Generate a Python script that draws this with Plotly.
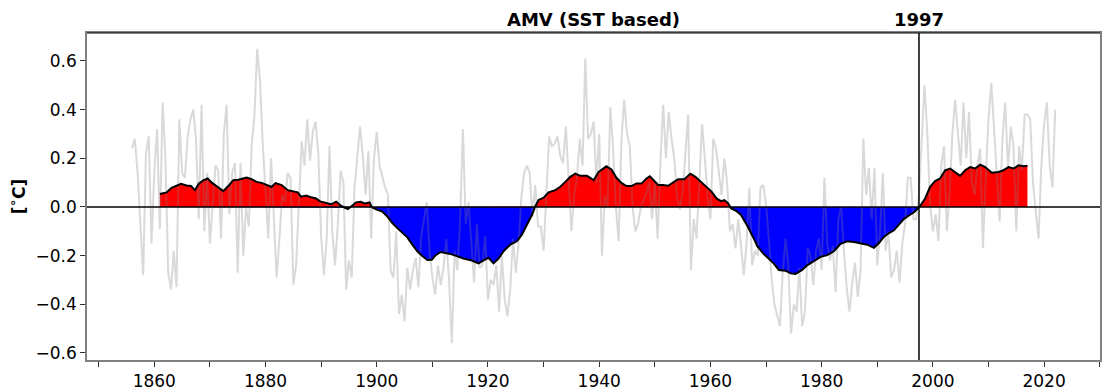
import numpy as np
import plotly.graph_objects as go

# Raw AMV index (half-year sampling), degC
RAW_START = 1856.0
RAW_STEP = 0.5
amv_raw = [
    0.24, 0.28, 0.14, -0.05, -0.28, 0.22, 0.29, -0.15, 0.14, 0.32,      # 1856-1860
    -0.09, 0.43, 0.20, -0.27, -0.34, -0.18, -0.33, 0.36, 0.14, 0.12,    # 1861-1865
    0.29, 0.36, 0.40, 0.28, -0.05, 0.42, -0.10, 0.14, -0.15, 0.01,      # 1866-1870
    0.17, 0.15, -0.13, 0.30, 0.42, -0.03, 0.14, 0.18, -0.27, 0.18,      # 1871-1875
    -0.20, 0.00, -0.08, 0.25, 0.37, 0.65, 0.52, 0.26, 0.08, -0.13,      # 1876-1880
    0.20, -0.05, -0.29, -0.13, 0.05, 0.02, 0.14, 0.12, -0.32, -0.24,    # 1881-1885
    0.05, 0.27, 0.17, 0.36, 0.19, 0.31, 0.35, 0.22, -0.12, -0.28,       # 1886-1890
    -0.13, 0.25, -0.10, -0.24, -0.07, 0.15, 0.10, -0.34, -0.22, -0.29,  # 1891-1895
    0.08, 0.20, 0.33, 0.21, 0.05, 0.23, -0.13, 0.20, 0.31, 0.17,        # 1896-1900
    0.12, 0.08, 0.05, -0.26, -0.29, -0.10, -0.44, -0.36, -0.47, -0.25,  # 1901-1905
    -0.34, -0.26, -0.21, -0.33, -0.12, -0.05, 0.02, -0.18, -0.29, -0.36,  # 1906-1910
    -0.24, -0.32, -0.25, -0.13, -0.30, -0.56, -0.18, -0.26, -0.05, 0.32,  # 1911-1915
    -0.07, 0.02, -0.16, -0.31, -0.07, -0.25, -0.24, -0.12, -0.38, -0.30,  # 1916-1920
    -0.32, -0.24, -0.43, -0.20, -0.38, -0.45, -0.34, -0.13, -0.27, -0.15,  # 1921-1925
    0.04, 0.14, 0.17, 0.14, -0.04, 0.09, -0.08, -0.08, -0.18, 0.05,     # 1926-1930
    0.29, 0.25, 0.26, 0.29, 0.21, 0.18, 0.33, 0.12, -0.10, 0.05,        # 1931-1935
    0.12, 0.28, 0.17, 0.61, 0.28, 0.30, 0.35, 0.10, 0.30, -0.20,        # 1936-1940
    0.05, 0.00, 0.41, 0.24, 0.00, -0.14, 0.28, 0.44, 0.30, 0.25,        # 1941-1945
    0.00, -0.10, -0.07, 0.00, 0.03, 0.06, 0.10, -0.05, 0.10, -0.13,     # 1946-1950
    0.18, 0.42, 0.20, 0.39, 0.28, 0.20, 0.04, -0.01, 0.06, 0.22,        # 1951-1955
    0.38, -0.26, -0.05, -0.13, 0.14, 0.34, 0.20, 0.04, -0.05, 0.28,     # 1956-1960
    0.24, 0.15, 0.05, 0.20, 0.10, -0.10, -0.07, -0.17, -0.05, -0.16,    # 1961-1965
    -0.28, -0.15, 0.08, -0.24, -0.18, -0.20, 0.08, 0.09, 0.01, -0.13,   # 1966-1970
    -0.29, -0.40, -0.44, -0.49, -0.27, -0.13, -0.24, -0.52, -0.40, -0.43,  # 1971-1975
    -0.25, -0.49, -0.43, -0.17, -0.20, -0.32, -0.18, -0.13, -0.26, 0.12,   # 1976-1980
    -0.15, -0.22, -0.16, -0.35, -0.05, 0.00, -0.18, -0.33, -0.43, -0.31,   # 1981-1985
    -0.23, -0.37, -0.26, 0.28, 0.05, 0.16, -0.05, 0.16, -0.24, -0.10,     # 1986-1990
    0.14, -0.18, -0.10, -0.29, -0.26, -0.18, -0.31, -0.15, -0.07, 0.12,   # 1991-1995
    0.12, -0.05, -0.05, 0.05, 0.28, 0.50, 0.30, 0.01, -0.10, -0.03,       # 1996-2000
    -0.14, 0.17, 0.25, -0.10, 0.05, 0.30, 0.44, 0.29, 0.17, 0.43,         # 2001-2005
    0.20, 0.39, 0.10, 0.05, 0.17, 0.24, -0.17, 0.12, 0.36, 0.51,          # 2006-2010
    0.33, 0.14, -0.06, 0.28, 0.43, 0.16, 0.33, 0.25, -0.10, 0.25,         # 2011-2015
    0.15, 0.38, 0.38, 0.36, 0.10, -0.02, -0.13, 0.17, 0.34, 0.43,         # 2016-2020
    0.17, 0.08, 0.40,                                                     # 2021-2022
]

# Low-pass filtered AMV index
smooth_years = [
    1861.0, 1862.2, 1863.1, 1864.0, 1864.8, 1865.8, 1866.6, 1867.3, 1868.0, 1868.8,
    1869.6, 1870.4, 1871.5, 1872.4, 1873.3, 1874.2, 1875.1, 1875.8, 1876.6, 1877.5,
    1878.4, 1879.3, 1880.2, 1881.1, 1881.8, 1882.9, 1884.0, 1884.9, 1885.8, 1886.4,
    1887.3, 1888.2, 1889.1, 1889.8, 1890.9, 1891.8, 1892.7, 1893.4, 1894.2, 1894.8,
    1895.4, 1896.3, 1897.1, 1897.9, 1898.7, 1899.1, 1900.1, 1901.0, 1901.9, 1902.8,
    1903.7, 1904.6, 1905.5, 1906.4, 1907.3, 1908.2, 1909.1, 1909.9, 1910.6, 1911.5,
    1913.2, 1914.4, 1915.6, 1917.1, 1918.3, 1919.2, 1920.1, 1921.0, 1921.9, 1922.8,
    1924.0, 1925.2, 1926.1, 1927.0, 1927.9, 1928.5, 1929.1, 1930.0, 1930.9, 1932.1,
    1933.0, 1933.9, 1934.8, 1935.7, 1936.6, 1937.8, 1939.0, 1939.9, 1941.3, 1942.2,
    1943.1, 1944.0, 1944.9, 1945.8, 1946.7, 1947.6, 1948.5, 1949.1, 1949.7, 1950.6,
    1951.5, 1952.4, 1953.3, 1954.2, 1955.3, 1956.4, 1957.3, 1958.1, 1959.0, 1960.2,
    1961.1, 1961.9, 1962.5, 1963.2, 1963.7, 1964.6, 1965.5, 1966.7, 1967.9, 1968.4,
    1969.4, 1970.5, 1971.4, 1972.3, 1973.5, 1974.4, 1975.3, 1976.5, 1977.4, 1978.6,
    1979.8, 1981.0, 1982.2, 1983.4, 1984.6, 1985.8, 1987.0, 1988.2, 1989.4, 1990.3,
    1991.2, 1992.1, 1993.0, 1993.9, 1994.8, 1995.7, 1996.6, 1997.6, 1998.6, 1999.5,
    2000.4, 2001.3, 2002.2, 2003.1, 2004.0, 2004.9, 2005.8, 2006.7, 2007.6, 2008.5,
    2009.4, 2010.6, 2011.8, 2012.7, 2013.6, 2014.5, 2015.4, 2016.3, 2017.0,
]
smooth_vals = [
    0.053, 0.060, 0.079, 0.088, 0.095, 0.088, 0.086, 0.069, 0.096, 0.109,
    0.117, 0.099, 0.080, 0.065, 0.086, 0.110, 0.112, 0.117, 0.121, 0.114,
    0.103, 0.099, 0.092, 0.082, 0.098, 0.090, 0.069, 0.063, 0.060, 0.042,
    0.047, 0.040, 0.035, 0.023, 0.015, 0.011, 0.022, 0.008, -0.003, -0.009,
    0.002, 0.019, 0.021, 0.014, 0.019, -0.001, -0.012, -0.019, -0.039, -0.066,
    -0.087, -0.107, -0.125, -0.155, -0.182, -0.202, -0.218, -0.217, -0.198, -0.185,
    -0.193, -0.202, -0.212, -0.220, -0.232, -0.220, -0.209, -0.232, -0.212, -0.182,
    -0.155, -0.141, -0.114, -0.073, -0.033, 0.002, 0.029, 0.038, 0.060, 0.069,
    0.083, 0.103, 0.124, 0.137, 0.128, 0.128, 0.110, 0.144, 0.167, 0.154,
    0.120, 0.099, 0.086, 0.086, 0.096, 0.096, 0.117, 0.126, 0.110, 0.090,
    0.090, 0.087, 0.101, 0.114, 0.114, 0.137, 0.124, 0.106, 0.086, 0.063,
    0.035, 0.024, 0.028, 0.015, -0.005, -0.016, -0.033, -0.080, -0.134, -0.160,
    -0.189, -0.212, -0.233, -0.259, -0.262, -0.273, -0.275, -0.259, -0.240, -0.223,
    -0.205, -0.198, -0.182, -0.152, -0.141, -0.144, -0.148, -0.155, -0.168, -0.148,
    -0.123, -0.107, -0.096, -0.073, -0.049, -0.035, -0.022, 0.000, 0.035, 0.083,
    0.106, 0.117, 0.151, 0.158, 0.141, 0.128, 0.151, 0.164, 0.158, 0.174,
    0.164, 0.141, 0.144, 0.151, 0.164, 0.158, 0.171, 0.167, 0.169,
]

EVENT_LABEL = "1997"
EVENT_YEAR = 1997.5
y_ticks = [-0.6, -0.4, -0.2, 0.0, 0.2, 0.4, 0.6]

FONT = "DejaVu Sans"

raw_years = RAW_START + RAW_STEP * np.arange(len(amv_raw))

# Insert zero crossings so the warm / cold fills meet exactly at y = 0
xs, ys = [], []
for i, (x, y) in enumerate(zip(smooth_years, smooth_vals)):
    if i > 0:
        x0, y0 = smooth_years[i - 1], smooth_vals[i - 1]
        if y0 * y < 0:
            xs.append(x0 + (x - x0) * (-y0) / (y - y0))
            ys.append(0.0)
    xs.append(x)
    ys.append(y)
xs = np.array(xs)
ys = np.array(ys)
warm = np.where(ys >= 0, ys, 0.0)
cold = np.where(ys <= 0, ys, 0.0)

fig = go.Figure()
fig.add_trace(go.Scatter(x=xs, y=warm, mode="lines", fill="tozeroy",
                         fillcolor="#ff0000", line=dict(width=0),
                         hoverinfo="skip", showlegend=False))
fig.add_trace(go.Scatter(x=xs, y=cold, mode="lines", fill="tozeroy",
                         fillcolor="#0000ff", line=dict(width=0),
                         hoverinfo="skip", showlegend=False))
fig.add_trace(go.Scatter(x=raw_years, y=amv_raw, mode="lines",
                         line=dict(color="rgba(128,128,128,0.3)", width=2),
                         showlegend=False))
fig.add_trace(go.Scatter(x=smooth_years, y=smooth_vals, mode="lines",
                         line=dict(color="black", width=2),
                         showlegend=False))

# zero line and event marker
fig.add_shape(type="line", xref="paper", x0=0, x1=1, yref="y", y0=0, y1=0,
              line=dict(color="black", width=1.5), layer="above")
fig.add_shape(type="line", xref="x", x0=EVENT_YEAR, x1=EVENT_YEAR,
              yref="paper", y0=0, y1=1,
              line=dict(color="black", width=1.5), layer="above")
# top frame edge
fig.add_shape(type="line", xref="paper", x0=0, x1=1, yref="paper", y0=1, y1=1,
              line=dict(color="black", width=1), layer="above")

fig.add_annotation(text="<b>AMV (SST based)</b>", xref="paper", x=0.5,
                   yref="paper", y=1, yanchor="bottom", yshift=1,
                   showarrow=False, font=dict(family=FONT, size=18, color="black"))
fig.add_annotation(text="<b>" + EVENT_LABEL + "</b>", xref="x", x=EVENT_YEAR,
                   yref="paper", y=1, yanchor="bottom", yshift=1,
                   showarrow=False, font=dict(family=FONT, size=18, color="black"))

axis_common = dict(showgrid=False, zeroline=False, showline=True,
                   linecolor="#808080", linewidth=1.5, mirror=True,
                   ticks="outside", ticklen=5, tickcolor="#333333",
                   tickfont=dict(family=FONT, size=17, color="black"))

fig.update_xaxes(range=[1847.9, 2030.05], tick0=1860, dtick=20,
                 minor=dict(tick0=1850, dtick=10, ticks="outside", ticklen=5,
                            tickcolor="#333333", showgrid=False),
                 **axis_common)
fig.update_yaxes(range=[-0.629, 0.715], tickvals=y_ticks, tickformat=".1f",
                 title=dict(text="<b>[<sup>∘</sup>C]</b>", standoff=6,
                            font=dict(family=FONT, size=17, color="black")),
                 **axis_common)

fig.update_layout(width=1103, height=392,
                  margin=dict(l=87, r=1, t=33, b=29),
                  plot_bgcolor="white", paper_bgcolor="white",
                  font=dict(family=FONT, color="black"))

fig.write_html("out.html")
